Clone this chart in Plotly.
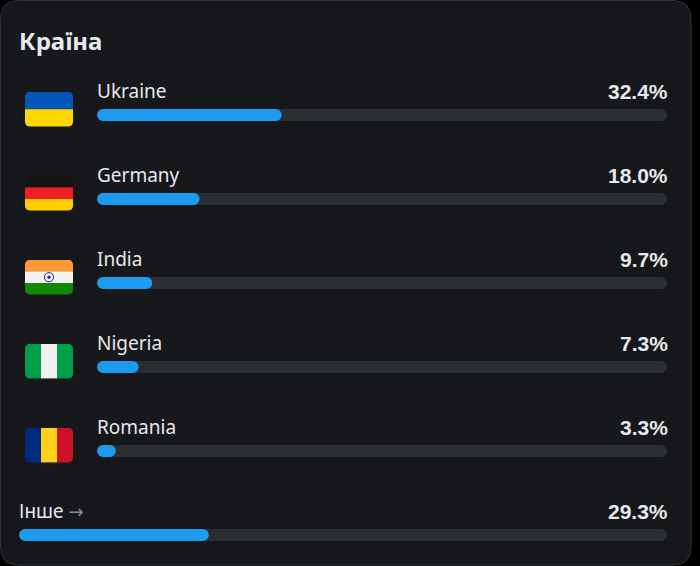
import base64
import plotly.graph_objects as go

# values
countries = ["Ukraine", "Germany", "India", "Nigeria", "Romania"]
shares = [32.4, 18.0, 9.7, 7.3, 3.3]
other_label = "Інше"
other_share = 29.3
title = "Країна"

BG = "#000000"
CARD = "#16181c"
BORDER = "#2f3336"
TRACK = "#2b2f33"
BLUE = "#1d9bf0"
TEXT = "#e7e9ea"
W, H = 700, 566
LABEL_FONT = "Noto Sans"
VALUE_FONT = "Liberation Sans"

flag_h = {
    "Ukraine": ["#0057b7", "#ffd700"],
    "Germany": ["#141414", "#f01f25", "#ffce00"],
    "India": ["#ff9933", "#f2f2f2", "#138808"],
}
flag_v = {
    "Nigeria": ["#009e49", "#f0f0f0", "#009e49"],
    "Romania": ["#002b7f", "#fcd116", "#ce1126"],
}


def flag_svg(name):
    s = '<svg xmlns="http://www.w3.org/2000/svg" width="480" height="350" viewBox="0 0 48 35">'
    s += '<defs><clipPath id="c"><rect width="48" height="35" rx="5"/></clipPath></defs><g clip-path="url(#c)">'
    if name in flag_h:
        cols = flag_h[name]
        for i, c in enumerate(cols):
            s += f'<rect x="0" y="{i * 35 / len(cols)}" width="48" height="{35 / len(cols) + 0.2}" fill="{c}"/>'
    else:
        cols = flag_v[name]
        for i, c in enumerate(cols):
            s += f'<rect x="{i * 16}" y="0" width="16.2" height="35" fill="{c}"/>'
    if name == "India":
        s += '<circle cx="24" cy="17.5" r="4.6" fill="none" stroke="#1f2a8c" stroke-width="1"/>'
        s += '<circle cx="24" cy="17.5" r="1.6" fill="#1f2a8c"/>'
    s += "</g></svg>"
    return "data:image/svg+xml;base64," + base64.b64encode(s.encode()).decode()


rows = countries + [other_label]
row_pitch = 84
first_row = 115
y_range = [(H - first_row) / row_pitch, -first_row / row_pitch]
bar_w = 12 / row_pitch
# a bar rounds both ends only when its base is off zero
base = 0.01


def add_row(ys, values, color, xaxis):
    fig.add_trace(go.Bar(y=ys, x=[v - base for v in values], base=base, orientation="h", width=bar_w,
                         marker=dict(color=color, line=dict(width=0)), xaxis=xaxis, yaxis="y",
                         hoverinfo="skip"))


fig = go.Figure()
add_row(countries, [100] * len(countries), TRACK, "x")
add_row([other_label], [100], TRACK, "x2")
add_row(countries, shares, BLUE, "x")
add_row([other_label], [other_share], BLUE, "x2")

annotations = [dict(text=f"<b>{title}</b>", xref="paper", yref="paper", x=19 / W, y=1 - 40 / H, xshift=-2,
                    xanchor="left", yanchor="middle", showarrow=False,
                    font=dict(family=LABEL_FONT, size=24, color=TEXT))]
for i, name in enumerate(rows):
    axis = "x2" if name == other_label else "x"
    value = other_share if name == other_label else shares[i]
    label = name
    if name == other_label:
        label = f'{name} <span style="color:#8b8d90;font-family:DejaVu Sans;font-size:18px">→</span>'
    annotations.append(dict(text=label, xref=axis, yref="y", x=0, y=name, xshift=-2, yshift=24,
                            xanchor="left", yanchor="middle", showarrow=False,
                            font=dict(family=LABEL_FONT, size=19, color=TEXT)))
    annotations.append(dict(text=f"<b>{value}%</b>", xref=axis, yref="y", x=100, y=name, xshift=3, yshift=24,
                            xanchor="right", yanchor="middle", showarrow=False,
                            font=dict(family=VALUE_FONT, size=21, color=TEXT)))

images = []
for i, name in enumerate(countries):
    images.append(dict(source=flag_svg(name), xref="paper", yref="paper",
                       x=25 / W, y=1 - (91.7 + row_pitch * i) / H, sizex=48 / W, sizey=35 / H,
                       xanchor="left", yanchor="top", sizing="stretch", layer="above"))


def px(v):
    return v / W


def py(v):
    return 1 - v / H


# card outline, in paper fractions
l, t, r, b, rad = 0.5, 0.5, 691, 565, 18
card = (f"M {px(l + rad)} {py(t)} L {px(r - rad)} {py(t)} Q {px(r)} {py(t)} {px(r)} {py(t + rad)} "
        f"L {px(r)} {py(b - rad)} Q {px(r)} {py(b)} {px(r - rad)} {py(b)} "
        f"L {px(l + rad)} {py(b)} Q {px(l)} {py(b)} {px(l)} {py(b - rad)} "
        f"L {px(l)} {py(t + rad)} Q {px(l)} {py(t)} {px(l + rad)} {py(t)} Z")

fig.update_layout(
    width=W, height=H, margin=dict(l=0, r=0, t=0, b=0),
    paper_bgcolor=BG, plot_bgcolor="rgba(0,0,0,0)",
    barmode="overlay", barcornerradius=6, showlegend=False,
    xaxis=dict(domain=[97 / W, 667 / W], range=[0, 100], visible=False, anchor="y"),
    xaxis2=dict(domain=[19 / W, 667 / W], range=[0, 100], visible=False, anchor="y"),
    yaxis=dict(domain=[0, 1], type="category", categoryorder="array", categoryarray=rows,
               range=y_range, visible=False, anchor="x"),
    annotations=annotations,
    images=images,
    shapes=[dict(type="path", path=card, xref="paper", yref="paper", layer="below",
                 fillcolor=CARD, line=dict(color=BORDER, width=1))],
)

fig.write_html("out.html", config=dict(displayModeBar=False),
               post_script="document.body.style.margin='0';")
